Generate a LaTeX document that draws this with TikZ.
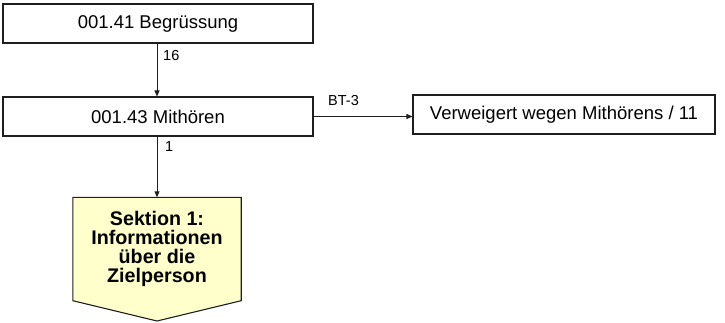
\documentclass[tikz,border=0pt]{standalone}
\usepackage{fontspec}
\setmainfont{Liberation Sans}
\usetikzlibrary{arrows.meta,backgrounds}
\definecolor{sekfill}{RGB}{255,255,204}
\definecolor{lnc}{RGB}{30,30,30}
\tikzset{
  x=1pt,y=-1pt,
  boxnode/.style={draw=lnc,line width=1.1pt,rectangle,inner sep=0pt,font=\fontsize{18.5}{21}\selectfont},
  lbl/.style={font=\fontsize{14.5}{16}\selectfont,inner sep=0pt},
  conn/.style={draw=lnc,line width=0.9pt,-{Triangle[length=6pt,width=5pt]}},
}
\begin{document}
\begin{tikzpicture}
\useasboundingbox (0,0) rectangle (725,322);
\node[boxnode,minimum width=310pt,minimum height=39pt] (b1) at (158,23.5) {001.41 Begrüssung};
\node[boxnode,minimum width=310pt,minimum height=39pt] (b2) at (158,116.5) {001.43 Mithören};
\node[boxnode,minimum width=302pt,minimum height=39pt] (b3) at (564,114.5) {Verweigert wegen Mithörens / 11};
\node[minimum width=168pt,minimum height=103pt,inner sep=0pt,align=center,
      font=\fontsize{19.7}{19}\selectfont\bfseries] (sek) at (157,249) {Sektion 1:\\Informationen\\über die\\Zielperson};
\coordinate (tip) at (157,321);
\begin{scope}[on background layer]
\draw[draw=lnc,line width=1.1pt,fill=sekfill] (sek.north west) -- (sek.north east) -- (sek.south east) -- (tip) -- (sek.south west) -- cycle;
\end{scope}
\draw[conn] (b1.south -| 157,0) -- (b2.north -| 157,0);
\draw[conn] (b2.east) -- (b2.east -| b3.west);
\draw[conn] (b2.south -| 157,0) -- (sek.north);
\node[lbl,anchor=west] (l16) at (163,56) {16};
\node[lbl,anchor=west] (lbt) at (328,101) {BT-3};
\node[lbl,anchor=west] (l1) at (165,147) {1};
\end{tikzpicture}
\end{document}
